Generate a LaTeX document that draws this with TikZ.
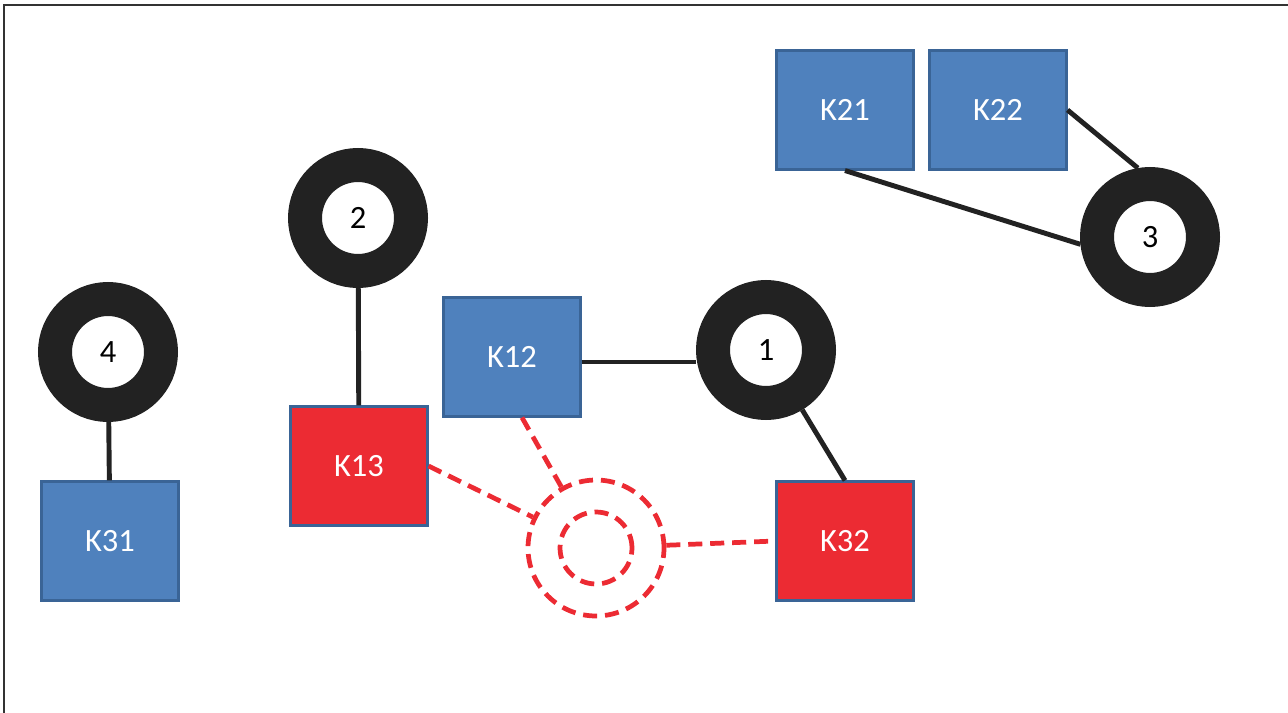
\documentclass[tikz,border=0pt]{standalone}
\usepackage{fontspec}
\setmainfont{Carlito}
\usepackage{tikz}
\usepackage{xcolor}
\definecolor{kblue}{HTML}{4F81BD}
\definecolor{kedge}{HTML}{3A6496}
\definecolor{kred}{HTML}{EC2B33}
\definecolor{ringgray}{HTML}{222222}

\begin{document}
\begin{tikzpicture}[x=0.02cm, y=-0.02cm,
    ring/.style={circle, draw=ringgray, line width=0.68cm, fill=white, minimum size=2.12cm, inner sep=0pt, font=\fontsize{18.5}{20}\selectfont},
    kbox/.style={rectangle, draw=kedge, line width=1.2pt, fill=kblue, text=white, minimum width=2.74cm, minimum height=2.38cm, font=\fontsize{18.5}{20}\selectfont},
    hit/.style={kbox, fill=kred},
    link/.style={draw=ringgray, line width=2.8pt},
    target/.style={draw=kred, line width=2.7pt, dash pattern=on 8pt off 4.5pt}]
    \useasboundingbox (0,0) rectangle (1288,713);
    \draw[line width=1.2pt, black!80] (4,713) -- (4,5) -- (1288,5);

    \node[kbox] (K21) at (845, 110) {K21};
    \node[kbox] (K22) at (998, 110) {K22};
    \node[kbox] (K12) at (512, 357) {K12};
    \node[hit] (K13) at (359, 466) {K13};
    \node[kbox] (K31) at (110, 541) {K31};
    \node[hit] (K32) at (845, 541) {K32};

    \node[ring] (1) at (766, 350) {1};
    \node[ring] (2) at (358, 218) {2};
    \node[ring] (3) at (1150, 237) {3};
    \node[ring] (4) at (108, 352) {4};

    \node[circle, target, minimum size=2.72cm] (tgt) at (596, 548) {};
    \node[circle, target, minimum size=1.44cm] (tgtin) at (596, 548) {};

    \draw[link] (4) -- (K31);
    \draw[link] (2) -- (K13);
    \draw[link] ([yshift=-0.1cm]K12.east) -- ([yshift=-0.1cm]K12.east -| 1.west);
    \draw[link] (K32.north) -- (1);
    \draw[link] (K22.east) -- (3.100);
    \draw[link] (K21.south) -- (3.186);

    \draw[target] (K13.east) -- (tgt);
    \draw[target] ([xshift=0.2cm]K12.south) -- (tgt);
    \draw[target] (tgt) -- (K32.west);
\end{tikzpicture}
\end{document}
